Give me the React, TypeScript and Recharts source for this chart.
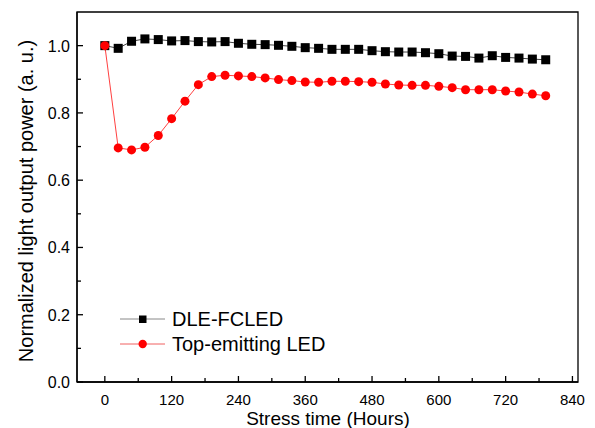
import React from "react";
import {
  LineChart,
  Line,
  XAxis,
  YAxis,
  ReferenceArea,
} from "recharts";

// stress time in hours, one reading every 24 h
const hours: number[] = [
  0, 24, 48, 72, 96, 120, 144, 168, 192, 216, 240, 264, 288, 312, 336, 360, 384,
  408, 432, 456, 480, 504, 528, 552, 576, 600, 624, 648, 672, 696, 720, 744, 768, 792,
];

const dleFcled: number[] = [
  1.0, 0.992, 1.013, 1.02, 1.018, 1.014, 1.015, 1.012, 1.011, 1.012, 1.007, 1.004,
  1.003, 1.001, 0.998, 0.994, 0.992, 0.989, 0.989, 0.989, 0.985, 0.982, 0.981,
  0.981, 0.979, 0.976, 0.969, 0.968, 0.963, 0.97, 0.965, 0.963, 0.96, 0.958,
];

const topEmitting: number[] = [
  1.0, 0.696, 0.69, 0.698, 0.733, 0.783, 0.835, 0.884, 0.908, 0.912, 0.91, 0.908,
  0.904, 0.899, 0.896, 0.892, 0.891, 0.894, 0.894, 0.893, 0.891, 0.886, 0.883,
  0.882, 0.882, 0.879, 0.875, 0.869, 0.869, 0.869, 0.865, 0.862, 0.856, 0.851,
];

const xTicks: number[] = [0, 60, 120, 180, 240, 300, 360, 420, 480, 540, 600, 660, 720, 780, 840];
const yTicks: number[] = [0, 0.1, 0.2, 0.3, 0.4, 0.5, 0.6, 0.7, 0.8, 0.9, 1.0];

const data = hours.map((h, i) => ({
  hour: h,
  dle: dleFcled[i],
  top: topEmitting[i],
}));

const FONT = "Arial, 'Liberation Sans', sans-serif";

const XTick = (props: any) => {
  const { x, y, payload } = props;
  const major = payload.value % 120 === 0;
  return (
    <g>
      <line x1={x} x2={x} y1={y} y2={y - (major ? 6 : 4)} stroke="#000" strokeWidth={1.3} />
      {major && (
        <text x={x} y={y + 23} textAnchor="middle" fontSize={15} fontFamily={FONT} fill="#000">
          {payload.value}
        </text>
      )}
    </g>
  );
};

const YTick = (props: any) => {
  const { x, y, payload } = props;
  const major = Math.round(payload.value * 10) % 2 === 0;
  return (
    <g>
      <line x1={x} x2={x + (major ? 6 : 4)} y1={y} y2={y} stroke="#000" strokeWidth={1.3} />
      {major && (
        <text x={x - 7} y={y + 6} textAnchor="end" fontSize={16} fontFamily={FONT} fill="#000">
          {payload.value.toFixed(1)}
        </text>
      )}
    </g>
  );
};

const SquareDot = (props: any) => {
  const { cx, cy } = props;
  if (cx == null || cy == null) return null;
  return <rect x={cx - 4.5} y={cy - 4.5} width={9} height={9} fill="#000" />;
};

// legend and axis titles drawn on top of the chart
const Overlay = () => (
  <svg
    width={595}
    height={428}
    style={{ position: "absolute", left: 0, top: 0, pointerEvents: "none" }}
  >
    <line x1={120} x2={165} y1={319} y2={319} stroke="#888" strokeWidth={1} />
    <rect x={139} y={315.5} width={7.5} height={7.5} fill="#000" />
    <text x={172} y={326} fontSize={20} fontFamily={FONT} fill="#000">DLE-FCLED</text>
    <line x1={120} x2={165} y1={344} y2={344} stroke="#f06060" strokeWidth={1} />
    <circle cx={142.7} cy={344} r={4.2} fill="#ff0000" />
    <text x={172} y={351} fontSize={20} fontFamily={FONT} fill="#000">Top-emitting LED</text>
    <text x={328} y={425} textAnchor="middle" fontSize={19} fontFamily={FONT} fill="#000">
      Stress time (Hours)
    </text>
    <text
      x={0}
      y={0}
      transform="translate(33 201) rotate(-90)"
      textAnchor="middle"
      fontSize={20}
      fontFamily={FONT}
      fill="#000"
    >
      Normalized light output power (a. u.)
    </text>
  </svg>
);

const App: React.FC = () => {
  return (
    <div style={{ position: "absolute", left: 0, top: 0, width: 595, height: 428, background: "#fff" }}>
      <LineChart
        width={595}
        height={428}
        data={data}
        margin={{ top: 12, right: 17, bottom: 0, left: 0 }}
      >
        <XAxis
          dataKey="hour"
          type="number"
          domain={[-50, 850]}
          ticks={xTicks}
          allowDataOverflow
          tickLine={false}
          tickSize={0}
          tickMargin={0}
          tick={<XTick />}
          axisLine={{ stroke: "#000", strokeWidth: 1.3 }}
          height={46}
          interval={0}
        />
        <YAxis
          type="number"
          domain={[0, 1.1]}
          ticks={yTicks}
          allowDataOverflow
          tickLine={false}
          tickSize={0}
          tickMargin={0}
          tick={<YTick />}
          axisLine={{ stroke: "#000", strokeWidth: 1.3 }}
          width={77}
          interval={0}
        />
        <ReferenceArea
          x1={-50}
          x2={850}
          y1={0}
          y2={1.1}
          fill="none"
          stroke="#000"
          strokeWidth={1.3}
          ifOverflow="visible"
        />
        <Line
          dataKey="dle"
          stroke="#444"
          strokeWidth={1}
          dot={<SquareDot />}
          activeDot={false}
          isAnimationActive={false}
        />
        <Line
          dataKey="top"
          stroke="#ff4040"
          strokeWidth={1}
          dot={{ r: 4.5, fill: "#ff0000", stroke: "#ff0000", strokeWidth: 0 }}
          activeDot={false}
          isAnimationActive={false}
        />
      </LineChart>
      <Overlay />
    </div>
  );
};

export default App;
